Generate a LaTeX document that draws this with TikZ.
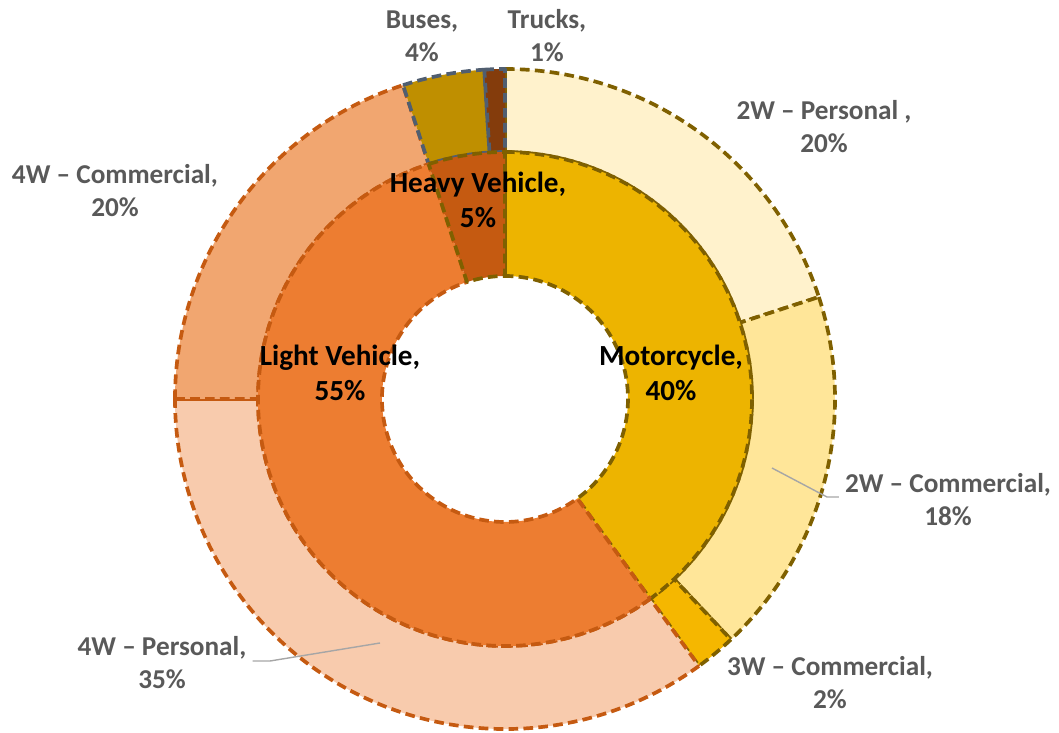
\documentclass[tikz,border=0pt]{standalone}
\usepackage{fontspec}
\setmainfont{Carlito}
\definecolor{moto}{RGB}{237,180,0}
\definecolor{p2w}{RGB}{255,242,204}
\definecolor{c2w}{RGB}{255,230,153}
\definecolor{c3w}{RGB}{245,183,0}
\definecolor{light}{RGB}{237,125,49}
\definecolor{p4w}{RGB}{248,203,173}
\definecolor{c4w}{RGB}{241,166,112}
\definecolor{heavy}{RGB}{197,90,17}
\definecolor{bus}{RGB}{191,143,0}
\definecolor{truck}{RGB}{132,60,12}
\definecolor{motoline}{RGB}{127,96,0}
\definecolor{lightline}{RGB}{197,90,17}
\definecolor{heavyline}{RGB}{80,94,112}
\definecolor{lblgray}{RGB}{89,89,89}
\definecolor{leadgray}{RGB}{166,166,166}

\begin{document}
\begin{tikzpicture}[ringseg/.style={line width=2.1pt, line join=round, dash pattern=on 5.5pt off 3pt},
  outlbl/.style={align=center, text=lblgray, font=\fontsize{15.5}{18.8}\selectfont\bfseries},
  inlbl/.style={align=center, font=\fontsize{16.6}{20}\selectfont\bfseries},
  leader/.style={draw=leadgray, line width=0.8pt}]
\useasboundingbox (0,0) rectangle (21.18,14.66);
\coordinate (c) at (10.10,6.68);
% outer ring
\foreach \a/\b/\f/\d in {90/18/p2w/motoline, 18/-46.8/c2w/motoline, -46.8/-54/c3w/motoline,
  -54/-180/p4w/lightline, -180/-252/c4w/lightline, -252/-266.4/bus/heavyline, -266.4/-270/truck/heavyline}{
\draw[ringseg, fill=\f, draw=\d] ([shift={(\a:6.6)}]c) arc[start angle=\a, end angle=\b, radius=6.6]
  -- ([shift={(\b:4.94)}]c) arc[start angle=\b, end angle=\a, radius=4.94] -- cycle;
}
% inner ring
\foreach \a/\b/\f/\d in {90/-54/moto/motoline, -54/-252/light/lightline, -252/-270/heavy/motoline}{
\draw[ringseg, fill=\f, draw=\d] ([shift={(\a:4.94)}]c) arc[start angle=\a, end angle=\b, radius=4.94]
  -- ([shift={(\b:2.46)}]c) arc[start angle=\b, end angle=\a, radius=2.46] -- cycle;
}
% labels
\node[outlbl] (lblbus) at (8.44,13.94) {Buses,\\4\%};
\node[outlbl] (lbltruck) at (10.94,13.94) {Trucks,\\1\%};
\node[outlbl] (lbl2wp) at (16.48,12.12) {2W -- Personal ,\\20\%};
\node[outlbl] (lbl4wc) at (2.30,10.84) {4W -- Commercial,\\20\%};
\node[outlbl] (lbl2wc) at (18.96,4.66) {2W -- Commercial,\\18\%};
\node[outlbl] (lbl3wc) at (16.60,1.00) {3W -- Commercial,\\2\%};
\node[outlbl] (lbl4wp) at (3.24,1.40) {4W -- Personal,\\35\%};
\node[inlbl] (lblheavy) at (9.56,10.66) {Heavy Vehicle,\\5\%};
\node[inlbl] (lbllight) at (6.80,7.21) {Light Vehicle,\\55\%};
\node[inlbl] (lblmoto) at (13.42,7.21) {Motorcycle,\\40\%};
% leaders
\coordinate (p2wc) at (15.44,5.30);
\coordinate (k2wc) at (16.54,4.72);
\draw[leader] (p2wc) -- (k2wc) -- (lbl2wc.west |- k2wc);
\coordinate (p4wp) at (7.60,1.80);
\coordinate (k4wp) at (5.40,1.44);
\draw[leader] (p4wp) -- (k4wp) -- (lbl4wp.east |- k4wp);
\end{tikzpicture}
\end{document}
